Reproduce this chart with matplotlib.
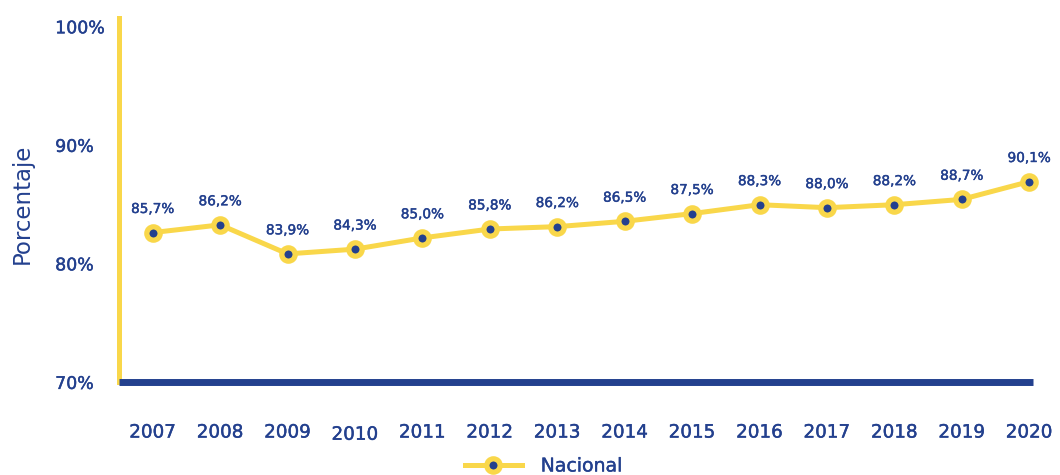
import matplotlib
matplotlib.use("Agg")
import matplotlib.pyplot as plt
import matplotlib.patheffects as pe
from matplotlib.lines import Line2D

years = ["2007", "2008", "2009", "2010", "2011", "2012", "2013",
         "2014", "2015", "2016", "2017", "2018", "2019", "2020"]
# value labels printed in the chart
labels = [85.7, 86.2, 83.9, 84.3, 85.0, 85.8, 86.2, 86.5, 87.5, 88.3, 88.0, 88.2, 88.7, 90.1]
# plotted point heights as they appear against the y axis
plotted = [82.6, 83.25, 80.8, 81.2, 82.15, 82.9, 83.1, 83.55, 84.2, 84.95, 84.7, 84.95, 85.4, 86.9]
yticks = [70, 80, 90, 100]

BLUE = "#23408E"
YELLOW = "#F9D74A"

plt.rcParams['font.family'] = ['DejaVu Sans']
thick = [pe.withStroke(linewidth=0.3, foreground=BLUE)]

fig = plt.figure(figsize=(10.6, 4.75), dpi=100)
ax = fig.add_axes([0.1123, 0.196, 0.8625, 0.766])

x = list(range(len(years)))
ax.plot(x, plotted, color=YELLOW, lw=3.6, marker='o', ms=9.6,
        mfc=BLUE, mec=YELLOW, mew=3.8, zorder=3, clip_on=False)

for xi, yi, lab in zip(x, plotted, labels):
    ax.annotate(f"{lab:.1f}%".replace('.', ','), (xi, yi), xytext=(0, 17),
                textcoords='offset points', ha='center', va='center',
                fontsize=9.8, color=BLUE, path_effects=thick)

ax.set_xlim(-0.5, 13.06)
ax.set_ylim(70, 100.7)

for s in ['top', 'right']:
    ax.spines[s].set_visible(False)
ax.spines['left'].set_color(YELLOW)
ax.spines['left'].set_linewidth(3.6)
ax.spines['bottom'].set_color(BLUE)
ax.spines['bottom'].set_linewidth(5)
ax.spines['bottom'].set_capstyle('butt')
ax.spines['bottom'].set_zorder(4)

ax.set_yticks(yticks)
ax.set_yticklabels([f"{v}%" for v in yticks], fontsize=12.5, color=BLUE, ha='left')
ax.tick_params(axis='y', length=0, pad=46)
ax.set_xticks(x)
ax.set_xticklabels(years, fontsize=13.2, color=BLUE)
ax.tick_params(axis='x', length=0, pad=30)
for t in ax.get_xticklabels():
    t.set_path_effects(thick)
    if t.get_text() == "2010":
        t.set_y(-0.006)
for t in ax.get_yticklabels():
    t.set_path_effects(thick)

ax.set_ylabel("Porcentaje", fontsize=16.5, color=BLUE, labelpad=0)
ax.yaxis.set_label_coords(-0.093, 0.49)

handle = Line2D([], [], color=YELLOW, lw=3.6, marker='o', ms=9.6,
                mfc=BLUE, mec=YELLOW, mew=3.8)
leg = fig.legend([handle], ["Nacional"], loc='center', bbox_to_anchor=(0.513, 0.019),
                 frameon=False, labelcolor=BLUE, handlelength=3.0,
                 handletextpad=1.0, prop={'size': 13.6})
for t in leg.get_texts():
    t.set_path_effects(thick)

fig.savefig("out.png", dpi=100)
